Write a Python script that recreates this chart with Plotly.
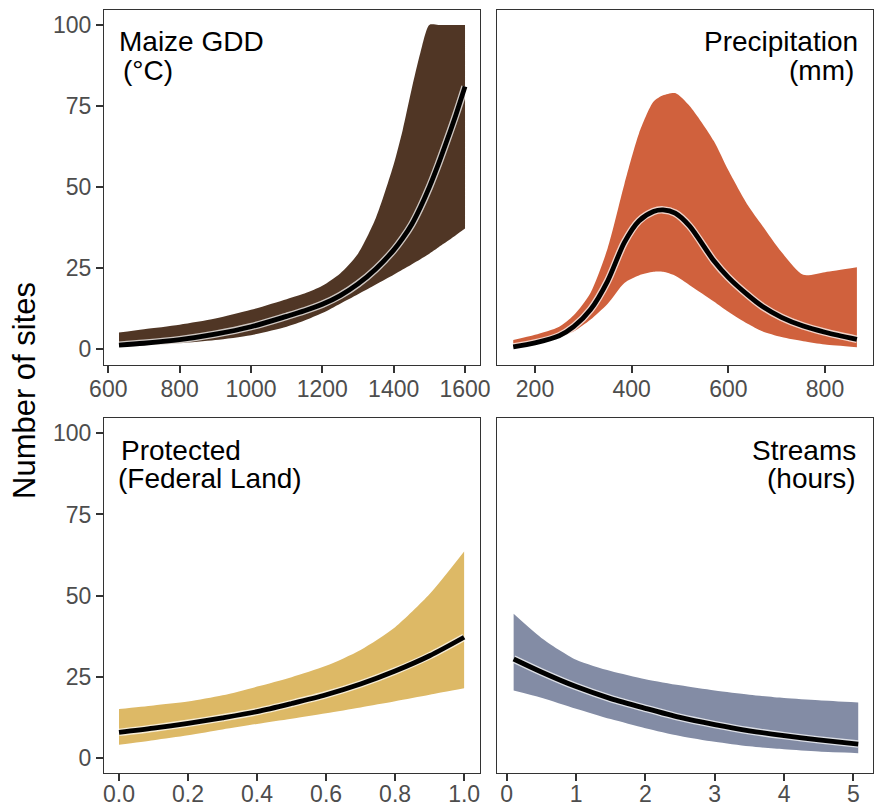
import plotly.graph_objects as go

# ---------------- data ----------------
gdd_x = [630, 700, 800, 900, 1000, 1100, 1150, 1200, 1250, 1300, 1350, 1400, 1425, 1450, 1475, 1500, 1525, 1550, 1575, 1600]
gdd_mean = [1.3, 1.9, 3.0, 4.7, 7.0, 10.2, 11.9, 13.9, 16.6, 20.2, 24.8, 30.6, 34.2, 38.4, 43.8, 50.0, 57.0, 64.6, 72.5, 81.0]
gdd_upper = [5.2, 6.2, 7.6, 9.5, 12.2, 15.5, 17.2, 19.6, 23.4, 29.5, 40.5, 57.0, 67.5, 80.0, 91.5, 100.0, 100.0, 100.0, 100.0, 100.0]
gdd_lower = [0.8, 1.2, 1.9, 2.9, 4.4, 7.0, 8.9, 11.2, 14.1, 17.0, 20.0, 23.0, 24.6, 26.2, 27.8, 29.5, 31.4, 33.3, 35.3, 37.3]

prec_x = [155, 200, 250, 280, 315, 350, 385, 415, 445, 465, 490, 520, 570, 600, 640, 670, 710, 755, 800, 866]
prec_mean = [0.8, 2.0, 4.2, 7.0, 12.3, 21.0, 33.0, 39.6, 42.5, 43.0, 42.0, 38.0, 27.3, 22.2, 16.8, 13.3, 9.9, 7.2, 5.3, 3.1]
prec_upper = [2.9, 4.5, 7.0, 10.5, 17.5, 31.0, 51.0, 66.5, 76.3, 78.3, 79.0, 75.0, 64.2, 55.2, 44.5, 38.2, 30.0, 23.0, 23.8, 25.3]
prec_lower = [0.6, 1.8, 3.7, 5.5, 9.2, 14.0, 20.5, 22.8, 23.9, 23.9, 22.7, 19.8, 14.8, 11.6, 7.9, 5.6, 3.8, 2.5, 1.5, 0.7]

prot_x = [0.0, 0.1, 0.2, 0.3, 0.4, 0.5, 0.6, 0.7, 0.8, 0.9, 1.0]
prot_mean = [7.9, 9.2, 10.7, 12.4, 14.3, 16.8, 19.5, 22.8, 26.8, 31.5, 37.2]
prot_upper = [15.1, 16.2, 17.4, 19.3, 22.0, 24.9, 28.4, 33.3, 40.3, 50.5, 63.6]
prot_lower = [4.1, 5.5, 7.0, 8.8, 10.5, 12.1, 13.8, 15.6, 17.5, 19.5, 21.5]

strm_x = [0.1, 0.5, 1.0, 1.5, 2.0, 2.5, 3.0, 3.5, 4.0, 4.5, 5.07]
strm_mean = [30.5, 26.5, 22.0, 18.3, 15.3, 12.5, 10.3, 8.4, 6.9, 5.6, 4.3]
strm_upper = [44.4, 37.0, 30.3, 26.8, 24.3, 22.4, 20.8, 19.5, 18.5, 17.8, 17.1]
strm_lower = [20.8, 18.6, 15.2, 12.0, 9.2, 6.8, 5.0, 3.6, 2.7, 2.0, 1.5]

panel_titles = [("Maize GDD", "(°C)"), ("Precipitation", "(mm)"),
                ("Protected", "(Federal Land)"), ("Streams", "(hours)")]
y_tickvals = [0, 25, 50, 75, 100]
gdd_ticks = [600, 800, 1000, 1200, 1400, 1600]
prec_ticks = [200, 400, 600, 800]
prot_ticks = [0.0, 0.2, 0.4, 0.6, 0.8, 1.0]
prot_ticktext = ["0.0", "0.2", "0.4", "0.6", "0.8", "1.0"]
strm_ticks = [0, 1, 2, 3, 4, 5]

# ---------------- styling ----------------
W, H = 877, 807
FONT = "Liberation Sans, Arial, Helvetica, sans-serif"
colors = ["#503625", "#d0613d", "#ddb966", "#838ca5"]

panels = [
    (gdd_x, gdd_mean, gdd_upper, gdd_lower, "x", "y"),
    (prec_x, prec_mean, prec_upper, prec_lower, "x2", "y2"),
    (prot_x, prot_mean, prot_upper, prot_lower, "x3", "y3"),
    (strm_x, strm_mean, strm_upper, strm_lower, "x4", "y4"),
]

fig = go.Figure()
for (xs, m, up, lo, xa, ya), col in zip(panels, colors):
    fig.add_trace(go.Scatter(x=xs, y=lo, mode="lines", xaxis=xa, yaxis=ya,
                             line=dict(width=0, color=col, shape="spline", smoothing=0.7),
                             showlegend=False, hoverinfo="skip"))
    fig.add_trace(go.Scatter(x=xs, y=up, mode="lines", xaxis=xa, yaxis=ya,
                             fill="tonexty", fillcolor=col,
                             line=dict(width=0, color=col, shape="spline", smoothing=0.7),
                             showlegend=False, hoverinfo="skip"))
    fig.add_trace(go.Scatter(x=xs, y=m, mode="lines", xaxis=xa, yaxis=ya,
                             line=dict(width=7.5, color="rgba(255,255,255,0.72)", shape="spline", smoothing=0.8),
                             showlegend=False, hoverinfo="skip"))
    fig.add_trace(go.Scatter(x=xs, y=m, mode="lines", xaxis=xa, yaxis=ya,
                             line=dict(width=4.8, color="black", shape="spline", smoothing=0.8),
                             showlegend=False, hoverinfo="skip"))

xdomL = [104 / W, 480 / W]
xdomR = [497 / W, 873 / W]
ydomT = [1 - 365 / H, 1 - 10 / H]
ydomB = [1 - 773 / H, 1 - 418 / H]

common_axis = dict(showline=True, linecolor="#333333", linewidth=1.2, mirror=True,
                   showgrid=False, zeroline=False, ticks="outside", ticklen=7,
                   tickwidth=2, tickcolor="#333333", automargin=False,
                   tickfont=dict(family=FONT, size=23, color="#4d4d4d"))
top_x = dict(ticklabelstandoff=-4)
bot_x = dict(ticklabelstandoff=-7)

fig.update_layout(
    width=W, height=H, margin=dict(l=0, r=0, t=0, b=0, autoexpand=False),
    paper_bgcolor="white", plot_bgcolor="white", showlegend=False,
    font=dict(family=FONT),
    xaxis=dict(domain=xdomL, range=[588, 1642], tickvals=gdd_ticks, anchor="y", **common_axis, **top_x),
    yaxis=dict(domain=ydomT, range=[-4.8, 104.6], tickvals=y_tickvals, anchor="x", **common_axis),
    xaxis2=dict(domain=xdomR, range=[121.4, 899.3], tickvals=prec_ticks, anchor="y2", **common_axis, **top_x),
    yaxis2=dict(domain=ydomT, range=[-4.8, 104.6], tickvals=y_tickvals, anchor="x2",
                **{**common_axis, "ticks": "", "showticklabels": False}),
    xaxis3=dict(domain=xdomL, range=[-0.0435, 1.046], tickvals=prot_ticks, ticktext=prot_ticktext,
                anchor="y3", **common_axis, **bot_x),
    yaxis3=dict(domain=ydomB, range=[-4.6, 104.7], tickvals=y_tickvals, anchor="x3", **common_axis),
    xaxis4=dict(domain=xdomR, range=[-0.14, 5.283], tickvals=strm_ticks, anchor="y4", **common_axis, **bot_x),
    yaxis4=dict(domain=ydomB, range=[-4.6, 104.7], tickvals=y_tickvals, anchor="x4",
                **{**common_axis, "ticks": "", "showticklabels": False}),
)

label_font = dict(family=FONT, size=28, color="black")
anns = [
    dict(text="Number of sites", x=24 / W, y=1 - 391 / H, textangle=-90,
         font=dict(family=FONT, size=31, color="black"), xanchor="center", yanchor="middle"),
    # top-left
    dict(text=panel_titles[0][0], x=117 / W, y=1 - 42 / H, xanchor="left", yanchor="middle", font=label_font),
    dict(text=panel_titles[0][1], x=121 / W, y=1 - 70.5 / H, xanchor="left", yanchor="middle", font=label_font),
    # top-right
    dict(text=panel_titles[1][0], x=860 / W, y=1 - 42 / H, xanchor="right", yanchor="middle", font=label_font),
    dict(text=panel_titles[1][1], x=856 / W, y=1 - 70.5 / H, xanchor="right", yanchor="middle", font=label_font),
    # bottom-left
    dict(text=panel_titles[2][0], x=118.5 / W, y=1 - 450 / H, xanchor="left", yanchor="middle", font=label_font),
    dict(text=panel_titles[2][1], x=115.5 / W, y=1 - 478.5 / H, xanchor="left", yanchor="middle", font=label_font),
    # bottom-right
    dict(text=panel_titles[3][0], x=857.5 / W, y=1 - 450 / H, xanchor="right", yanchor="middle", font=label_font),
    dict(text=panel_titles[3][1], x=858 / W, y=1 - 478.5 / H, xanchor="right", yanchor="middle", font=label_font),
]
for a in anns:
    a.update(xref="paper", yref="paper", showarrow=False)
fig.update_layout(annotations=anns)

# remove the browser's default page margin so the figure fills the window exactly
fig.write_html("out.html", config={"displayModeBar": False},
               post_script="document.body.style.margin='0';document.body.style.overflow='hidden';")
